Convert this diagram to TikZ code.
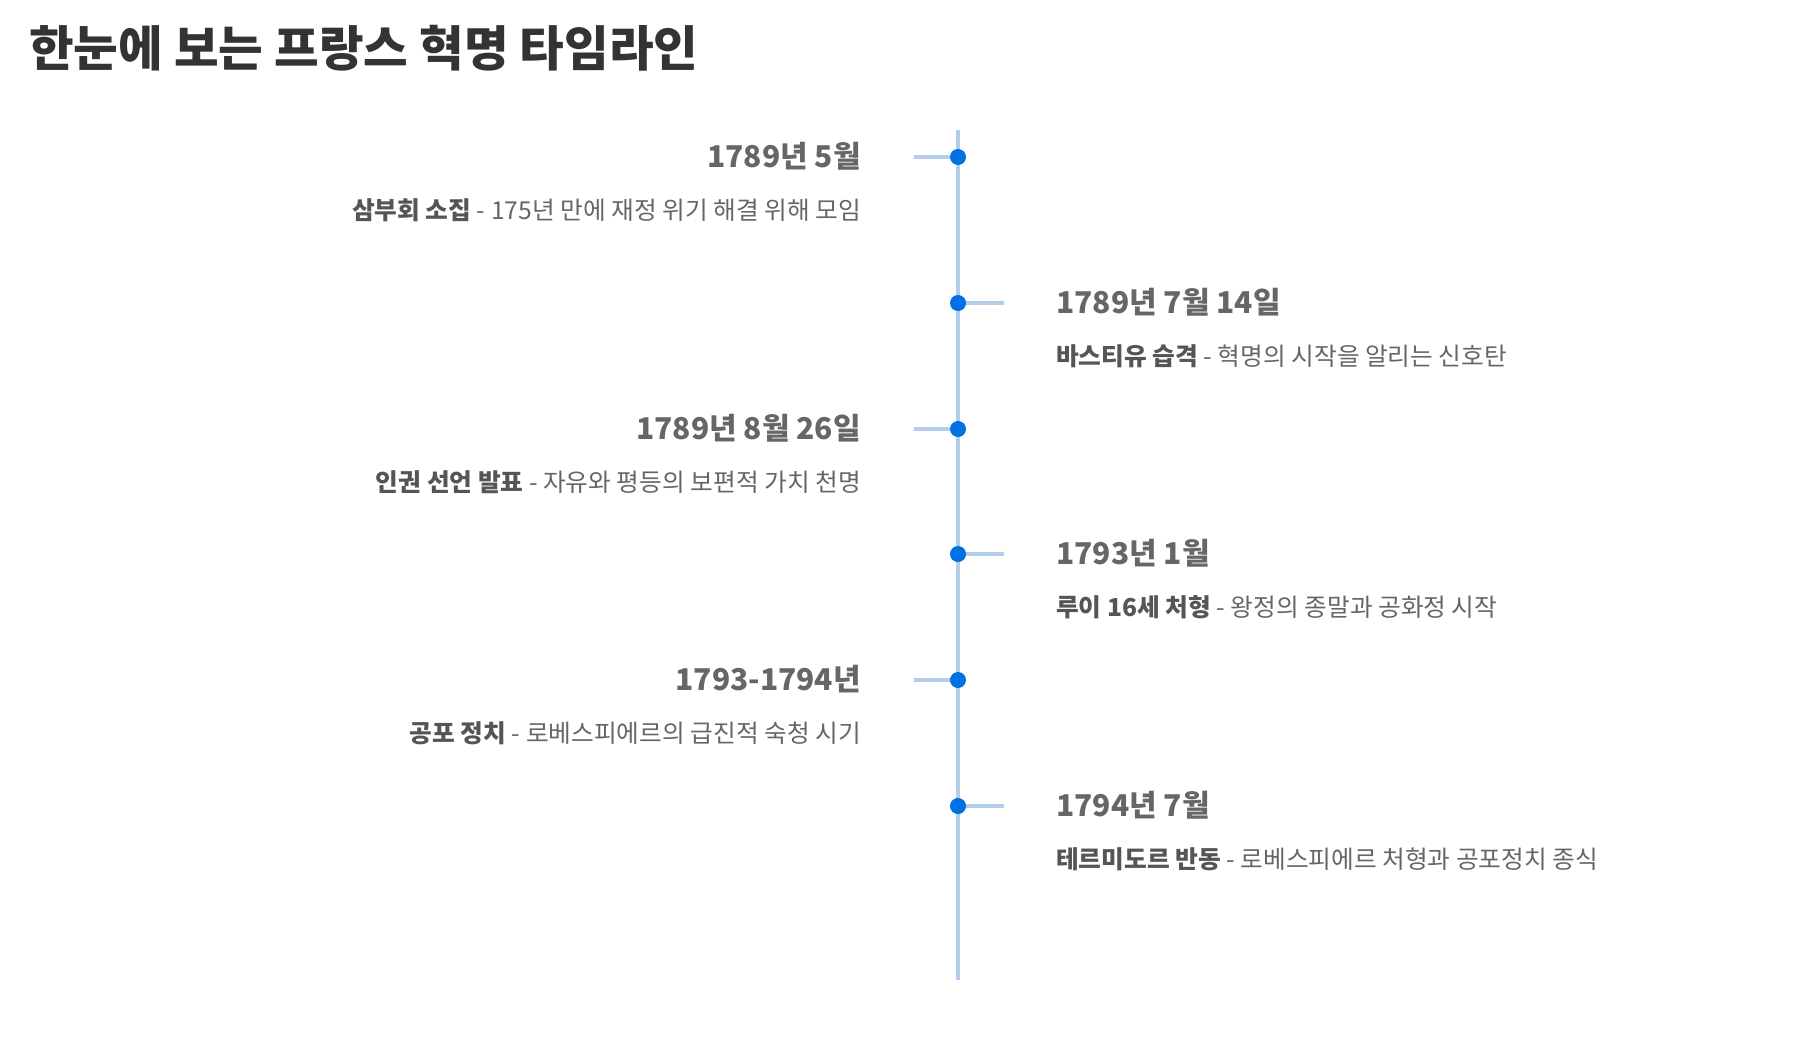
\documentclass[tikz,border=0pt]{standalone}
\usepackage{fontspec}
\setmainfont{Noto Sans CJK KR}
\definecolor{titlec}{HTML}{333333}
\definecolor{datec}{HTML}{666666}
\definecolor{labelc}{HTML}{555555}
\definecolor{descc}{HTML}{666666}
\definecolor{axisc}{HTML}{B3CDE9}
\definecolor{dotc}{HTML}{0071E3}
\begin{document}
\begin{tikzpicture}[x=1pt,y=-1pt,
  titlestyle/.style={anchor=base west, inner sep=0pt, font=\fontsize{48.5}{52}\selectfont\bfseries, text=titlec},
  dateL/.style={anchor=base east, inner sep=0pt, font=\fontsize{30}{34}\selectfont\bfseries, text=datec},
  dateR/.style={anchor=base west, inner sep=0pt, font=\fontsize{30}{34}\selectfont\bfseries, text=datec},
  descL/.style={anchor=base east, inner sep=0pt, font=\fontsize{24.7}{29}\selectfont, text=descc},
  descR/.style={anchor=base west, inner sep=0pt, font=\fontsize{24.7}{29}\selectfont, text=descc},
  axisline/.style={draw=axisc, line width=4pt},
  tickline/.style={draw=axisc, line width=3.5pt},
  dotstyle/.style={fill=dotc}
]
\useasboundingbox (0,0) rectangle (1795,1038);
\node[titlestyle] (title) at (29,67) {한눈에 보는 프랑스 혁명 타임라인};

\coordinate (top) at (958,130);
\coordinate (bottom) at (958,980);
\draw[axisline] (top) -- (bottom);

% entry 1 (left)
\coordinate (c1) at (958,157); \coordinate (t1) at (914,157);
\draw[tickline] (t1) -- (c1);
\fill[dotstyle] (c1) circle (8pt);
\node[dateL] (d1) at (861,167) {1789년 5월};
\node[descL] (e1) at (861,219) {{\color{labelc}\bfseries 삼부회 소집} - 175년 만에 재정 위기 해결 위해 모임};

% entry 2 (right)
\coordinate (c2) at (958,303); \coordinate (t2) at (1004,303);
\draw[tickline] (c2) -- (t2);
\fill[dotstyle] (c2) circle (8pt);
\node[dateR] (d2) at (1056,313) {1789년 7월 14일};
\node[descR] (e2) at (1056,365) {{\color{labelc}\bfseries 바스티유 습격} - 혁명의 시작을 알리는 신호탄};

% entry 3 (left)
\coordinate (c3) at (958,429); \coordinate (t3) at (914,429);
\draw[tickline] (t3) -- (c3);
\fill[dotstyle] (c3) circle (8pt);
\node[dateL] (d3) at (861,439) {1789년 8월 26일};
\node[descL] (e3) at (861,491) {{\color{labelc}\bfseries 인권 선언 발표} - 자유와 평등의 보편적 가치 천명};

% entry 4 (right)
\coordinate (c4) at (958,554); \coordinate (t4) at (1004,554);
\draw[tickline] (c4) -- (t4);
\fill[dotstyle] (c4) circle (8pt);
\node[dateR] (d4) at (1056,564) {1793년 1월};
\node[descR] (e4) at (1056,616) {{\color{labelc}\bfseries 루이 16세 처형} - 왕정의 종말과 공화정 시작};

% entry 5 (left)
\coordinate (c5) at (958,680); \coordinate (t5) at (914,680);
\draw[tickline] (t5) -- (c5);
\fill[dotstyle] (c5) circle (8pt);
\node[dateL] (d5) at (861,690) {1793-1794년};
\node[descL] (e5) at (861,742) {{\color{labelc}\bfseries 공포 정치} - 로베스피에르의 급진적 숙청 시기};

% entry 6 (right)
\coordinate (c6) at (958,806); \coordinate (t6) at (1004,806);
\draw[tickline] (c6) -- (t6);
\fill[dotstyle] (c6) circle (8pt);
\node[dateR] (d6) at (1056,816) {1794년 7월};
\node[descR] (e6) at (1056,868) {{\color{labelc}\bfseries 테르미도르 반동} - 로베스피에르 처형과 공포정치 종식};
\end{tikzpicture}
\end{document}
